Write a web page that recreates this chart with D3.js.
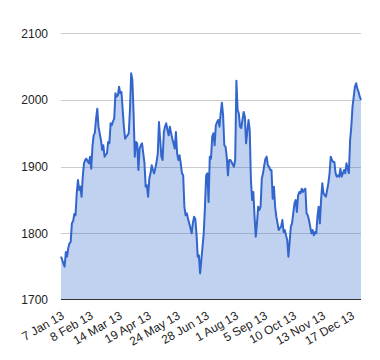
<!DOCTYPE html>
<html>
<head>
<meta charset="utf-8">
<script src="https://cdn.jsdelivr.net/npm/d3@7"></script>
<style>
  html, body { margin: 0; padding: 0; background: #fff; }
  svg { display: block; font-family: Arial, "Liberation Sans", sans-serif; }
</style>
</head>
<body>
<svg id="chart" width="380" height="360"></svg>
<script>
// Daily values (business days, 7 Jan 13 .. 31 Dec 13)
const values = [
  1765,1760,1755,1750,1772,1765,1778,1785,1787,1815,
  1818,1829,1827,1860,1880,1865,1870,1855,1885,1905,
  1910,1912,1908,1905,1915,1897,1930,1947,1951,1972,
  1987,1960,1950,1940,1925,1932,1915,1918,1920,1937,
  1935,1965,1962,1968,1972,2010,2005,2007,2020,2010,
  2012,1985,1960,1942,1945,1947,1950,1985,2040,2030,
  1980,1915,1937,1935,1895,1927,1932,1935,1920,1905,
  1870,1872,1855,1882,1890,1902,1895,1890,1898,1907,
  1920,1967,1940,1915,1910,1952,1960,1965,1955,1947,
  1960,1950,1942,1935,1927,1952,1920,1910,1917,1905,
  1890,1887,1840,1827,1830,1822,1815,1808,1800,1815,
  1825,1822,1800,1765,1767,1740,1760,1780,1800,1840,
  1887,1890,1847,1915,1912,1945,1950,1932,1962,1967,
  1970,1960,1980,1996,1977,1932,1930,1915,1887,1910,
  1910,1907,1903,1900,1910,2029,1985,1980,1960,1958,
  1970,1982,1975,1935,1952,1970,1955,1880,1850,1862,
  1825,1795,1815,1840,1835,1840,1882,1890,1902,1912,
  1915,1902,1900,1895,1895,1852,1870,1840,1825,1815,
  1805,1808,1810,1820,1802,1805,1797,1790,1765,1787,
  1810,1815,1830,1845,1850,1832,1857,1862,1860,1867,
  1862,1865,1867,1830,1827,1820,1810,1800,1805,1797,
  1802,1800,1825,1840,1815,1850,1875,1860,1857,1855,
  1865,1875,1890,1915,1910,1907,1907,1890,1885,1887,
  1885,1897,1885,1890,1895,1890,1905,1897,1890,1940,
  1960,1990,2005,2020,2025,2017,2012,2005,2000
];
const tickLabels = ["7 Jan 13","8 Feb 13","14 Mar 13","19 Apr 13","24 May 13","28 Jun 13",
                    "1 Aug 13","5 Sep 13","10 Oct 13","13 Nov 13","17 Dec 13"];
const labelStep = 24;
const yTicks = [1700, 1800, 1900, 2000, 2100];

const svg = d3.select("#chart");
const mLeft = 61, mRight = 361, mTop = 33.3, mBottom = 300;

const x = d3.scaleLinear().domain([0, values.length - 1]).range([mLeft, mRight]);
const y = d3.scaleLinear().domain([1700, 2100]).range([mBottom, mTop]);

// gridlines
svg.append("g").selectAll("line").data(yTicks.filter(d => d !== 1700)).join("line")
  .attr("x1", mLeft).attr("x2", mRight)
  .attr("y1", d => Math.round(y(d)) + 0.5).attr("y2", d => Math.round(y(d)) + 0.5)
  .attr("stroke", "#cccccc").attr("stroke-width", 1);

// y labels
svg.append("g").selectAll("text").data(yTicks).join("text")
  .attr("x", 48).attr("y", d => y(d))
  .attr("dy", "0.36em")
  .attr("text-anchor", "end")
  .attr("font-size", 12).attr("fill", "#222")
  .text(d => d);

// area
const area = d3.area().x((d, i) => x(i)).y0(y(1700)).y1(d => y(d));
svg.append("path").datum(values).attr("d", area)
  .attr("fill", "#3366cc").attr("fill-opacity", 0.3);

// line
const line = d3.line().x((d, i) => x(i)).y(d => y(d));
svg.append("path").datum(values).attr("d", line)
  .attr("fill", "none").attr("stroke", "#3366cc").attr("stroke-width", 2)
  .attr("stroke-linejoin", "round");

// baseline
svg.append("line").attr("x1", mLeft).attr("x2", mRight)
  .attr("y1", Math.round(y(1700)) - 0.5).attr("y2", Math.round(y(1700)) - 0.5)
  .attr("stroke", "#333").attr("stroke-width", 1);

// x labels
svg.append("g").selectAll("text").data(tickLabels).join("text")
  .attr("transform", (d, i) => `translate(${x(i * labelStep) + 4},${318}) rotate(-30)`)
  .attr("text-anchor", "end")
  .attr("font-size", 12).attr("fill", "#222")
  .text(d => d);
</script>
</body>
</html>
